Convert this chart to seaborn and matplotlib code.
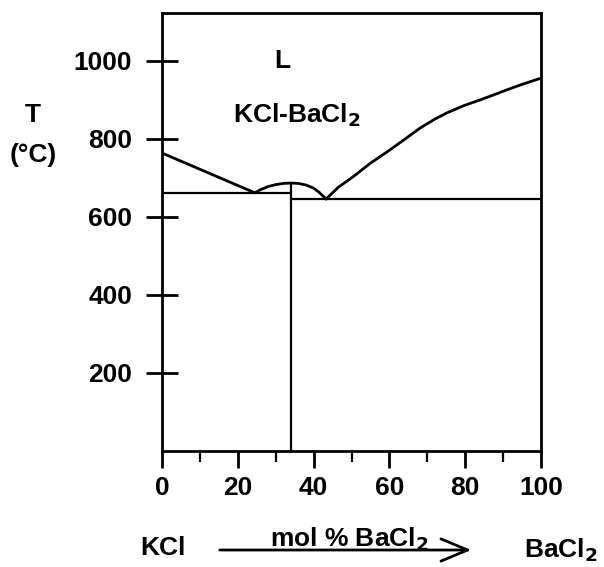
import matplotlib
matplotlib.use("Agg")
import matplotlib.pyplot as plt
import seaborn as sns
import pandas as pd
from matplotlib.ticker import MultipleLocator

# ---- data (mol % BaCl2, temperature in °C) ----
left_liq_x = [0, 24.5]
left_liq_T = [764, 662]
dome_x = [24.5, 26, 28, 30, 32, 34, 36, 38, 40, 41.5, 43.3]
dome_T = [662, 670, 678, 683, 686, 687, 686, 682, 674, 663, 646]
right_liq_x = [43.3, 46.5, 50.4, 55, 59.4, 64, 68.1, 72, 75.2, 79.5, 83.9, 87.5, 91, 95, 100]
right_liq_T = [646, 676, 703, 738, 767, 799, 828, 851, 867, 885, 900, 913, 926, 940, 956]
eut1_x = [0, 34]
eut1_T = [661, 661]
eut2_x = [34, 100]
eut2_T = [646, 646]
comp_x = [34, 34]
comp_T = [0, 686]
xticks_major = [0, 20, 40, 60, 80, 100]
yticks = [200, 400, 600, 800, 1000]

sns.set_style("ticks")
plt.rcParams['font.family'] = ['Liberation Sans', 'DejaVu Sans']
plt.rcParams['font.weight'] = 'bold'
plt.rcParams['text.color'] = 'black'
plt.rcParams['xtick.color'] = 'black'
plt.rcParams['ytick.color'] = 'black'
plt.rcParams['xtick.labelcolor'] = 'black'
plt.rcParams['ytick.labelcolor'] = 'black'

W, H = 604, 567
fig = plt.figure(figsize=(W / 100, H / 100), dpi=100)
ax = fig.add_axes([162 / W, (H - 451) / H, 379 / W, 438 / H])

segments = [
    (left_liq_x, left_liq_T), (dome_x, dome_T), (right_liq_x, right_liq_T),
    (eut1_x, eut1_T), (eut2_x, eut2_T), (comp_x, comp_T),
]
for i, (xs, ts) in enumerate(segments):
    df = pd.DataFrame({"x": xs, "T": ts})
    lw = 1.6 if i in (3, 4, 5) else 2.0
    sns.lineplot(data=df, x="x", y="T", ax=ax, color="black", lw=lw,
                 sort=False, estimator=None)

ax.set_xlim(0, 100)
ax.set_ylim(0, 1123)
ax.set_xlabel("")
ax.set_ylabel("")
ax.set_xticks(xticks_major)
ax.set_xticklabels([str(v) for v in xticks_major])
ax.xaxis.set_minor_locator(MultipleLocator(10))
ax.set_yticks(yticks)
ax.set_yticklabels([str(v) for v in yticks])

for s in ax.spines.values():
    s.set_linewidth(2.0)
    s.set_color("black")

ax.tick_params(axis='x', which='major', direction='out', length=12, width=2,
               pad=6, labelsize=19, colors='black')
ax.tick_params(axis='x', which='minor', direction='out', length=8, width=1.6,
               colors='black')
ax.tick_params(axis='y', which='major', direction='inout', length=23, width=2,
               pad=10, labelsize=19, colors='black')
for lab in ax.get_xticklabels() + ax.get_yticklabels():
    lab.set_fontweight('bold')

ax.text(31.7, 1000, "L", ha="center", va="center", fontsize=19, color="black")
ax.text(35.6, 862, "KCl-BaCl$_2$", ha="center", va="center", fontsize=19,
        color="black")

def ftext(px, py, s):
    fig.text(px / W, 1 - py / H, s, ha="center", va="center", fontsize=19,
             fontweight="bold", color="black")

ftext(33, 115, "T")
ftext(33, 155, "(°C)")
ftext(163, 548, "KCl")
ftext(349, 539, "mol % BaCl$_2$")
ftext(561, 550, "BaCl$_2$")
fig.patches.append(matplotlib.patches.FancyArrowPatch(
    (217 / W, 1 - 550 / H), (474 / W, 1 - 550 / H), transform=fig.transFigure,
    arrowstyle="->,head_length=1.2,head_width=0.5", mutation_scale=16,
    lw=2, color="black"))

fig.savefig("out.png", dpi=100)
